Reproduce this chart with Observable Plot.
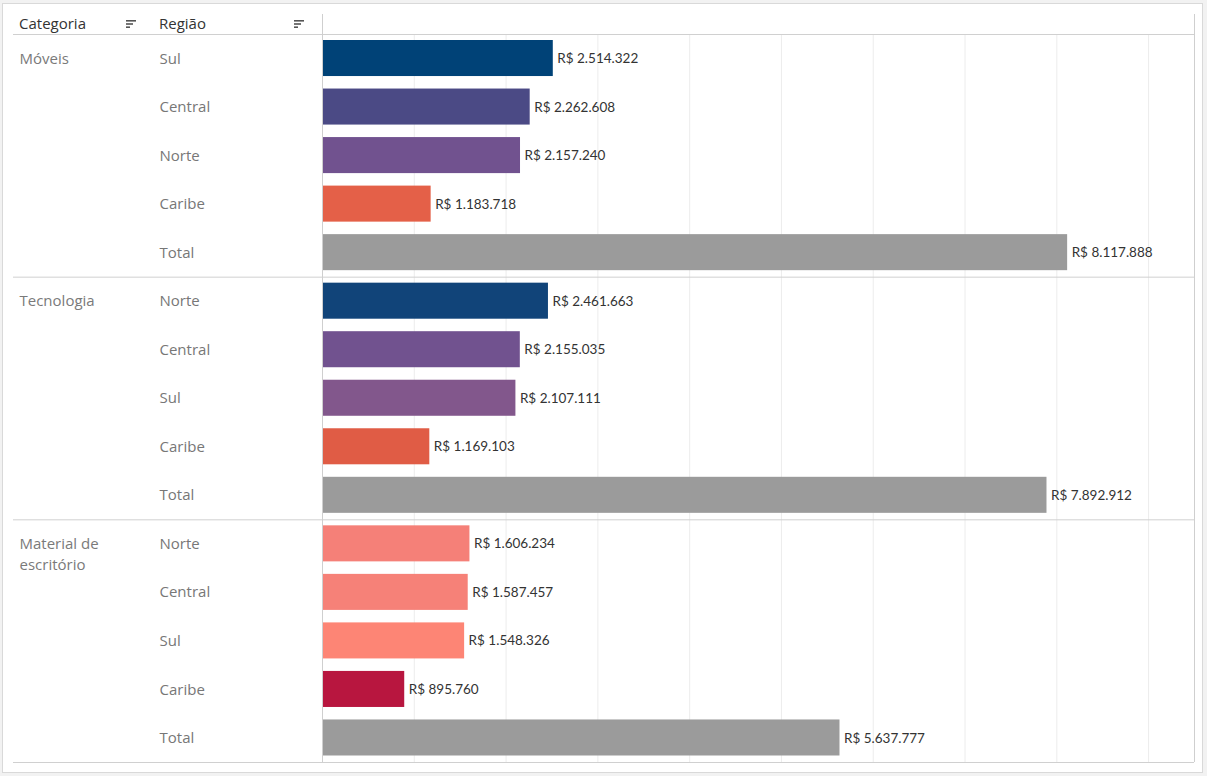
<!DOCTYPE html>
<html><head><meta charset="utf-8">
<script src="https://cdn.jsdelivr.net/npm/d3@7"></script>
<script src="https://cdn.jsdelivr.net/npm/@observablehq/plot@0.6"></script>
<style>
html,body{margin:0;padding:0;background:#f2f2f2;width:1207px;height:776px;overflow:hidden;}
#panel{position:absolute;left:2px;top:3px;width:1199px;height:768px;background:#fff;border:1px solid #d9d9d9;}
#chart{position:absolute;left:0;top:0;}
.hdr{position:absolute;top:13px;font-family:"Open Sans";font-size:15px;color:#333;line-height:20px;}
.sort{position:absolute;top:19px;}
</style></head><body>
<div id="panel"></div>
<div id="chart"></div>
<div class="hdr" style="left:19px">Categoria</div>
<div class="hdr" style="left:159px">Região</div>
<svg class="sort" style="left:126px" width="12" height="10"><rect x="0" y="1" width="10" height="1.6" fill="#555"/><rect x="0" y="4.2" width="7" height="1.6" fill="#555"/><rect x="0" y="7.4" width="4" height="1.6" fill="#555"/></svg>
<svg class="sort" style="left:294px" width="12" height="10"><rect x="0" y="1" width="10" height="1.6" fill="#555"/><rect x="0" y="4.2" width="7" height="1.6" fill="#555"/><rect x="0" y="7.4" width="4" height="1.6" fill="#555"/></svg>
<script>
const categories = ["Móveis", "Tecnologia", "Material de escritório"];
const categoryLabels = ["Móveis", "Tecnologia", "Material de\nescritório"];

const regionsMoveis = ["Sul", "Central", "Norte", "Caribe", "Total"];
const valuesMoveis = [2514322, 2262608, 2157240, 1183718, 8117888];

const regionsTecnologia = ["Norte", "Central", "Sul", "Caribe", "Total"];
const valuesTecnologia = [2461663, 2155035, 2107111, 1169103, 7892912];

const regionsMaterial = ["Norte", "Central", "Sul", "Caribe", "Total"];
const valuesMaterial = [1606234, 1587457, 1548326, 895760, 5637777];

const gridTicks = [1e6, 2e6, 3e6, 4e6, 5e6, 6e6, 7e6, 8e6, 9e6];

const colorsMoveis = ["#004277", "#4b4a85", "#71528f", "#e46048", "#9b9b9b"];
const colorsTecnologia = ["#114479", "#71528f", "#82578c", "#e05c45", "#9b9b9b"];
const colorsMaterial = ["#f58078", "#f68178", "#fd8575", "#b8163f", "#9b9b9b"];

const regionsByCat = [regionsMoveis, regionsTecnologia, regionsMaterial];
const valuesByCat = [valuesMoveis, valuesTecnologia, valuesMaterial];
const colorsByCat = [colorsMoveis, colorsTecnologia, colorsMaterial];

const rows = [];
const colorRange = [];
categories.forEach((c, i) => {
  regionsByCat[i].forEach((r, j) => {
    rows.push({category: c, region: r, value: valuesByCat[i][j], key: c + "|" + r});
    colorRange.push(colorsByCat[i][j]);
  });
});
const catRows = categories.map((c, i) => ({label: categoryLabels[i], key: c + "|" + regionsByCat[i][0]}));
const lastRow = [rows[rows.length - 1]];

const fmt = d3.formatLocale({decimal: ",", thousands: ".", grouping: [3], currency: ["R$ ", ""]}).format("$,.0f");

const H = 776, mT = 34, mB = 14;
const step = (H - mT - mB) / rows.length;

const chart = Plot.plot({
  width: 1207, height: H,
  marginLeft: 322, marginRight: 13, marginTop: mT, marginBottom: mB,
  x: {domain: [0, 9.5e6], axis: null},
  y: {domain: rows.map(d => d.key), axis: null, padding: 0, round: false},
  color: {domain: rows.map(d => d.key), range: colorRange},
  style: {background: "transparent", fontFamily: "Lato", overflow: "visible"},
  marks: [
    Plot.ruleX(gridTicks, {x: d => d, stroke: "#ececec", strokeOpacity: 1}),
    Plot.barX(rows, {x: "value", y: "key", fill: "key", insetTop: 6, insetBottom: 6.5}),
    Plot.text(rows, {x: "value", y: "key", text: d => fmt(d.value), textAnchor: "start", dx: 4, fontSize: 13.5, fill: "#333"}),
    Plot.text(rows, {y: "key", text: "region", frameAnchor: "left", dx: -163, textAnchor: "start", fontSize: 15, fill: "#777", fontFamily: "Open Sans"}),
    Plot.text(catRows, {y: "key", text: "label", frameAnchor: "left", dx: -303, textAnchor: "start", lineAnchor: "top", dy: -10, lineHeight: 1.4, fontSize: 15, fill: "#7a7a7a", fontFamily: "Open Sans"}),
    Plot.ruleY(catRows, {y: "key", dy: -step / 2, insetLeft: -309, stroke: "#d0d0d0", strokeOpacity: 1}),
    Plot.ruleY(lastRow, {y: "key", dy: step / 2, insetLeft: -309, stroke: "#d0d0d0", strokeOpacity: 1}),
    Plot.ruleX([0, 9.5e6], {insetTop: -20, stroke: "#cfcfcf", strokeOpacity: 1})
  ]
});
document.getElementById("chart").appendChild(chart);
</script>
</body></html>
